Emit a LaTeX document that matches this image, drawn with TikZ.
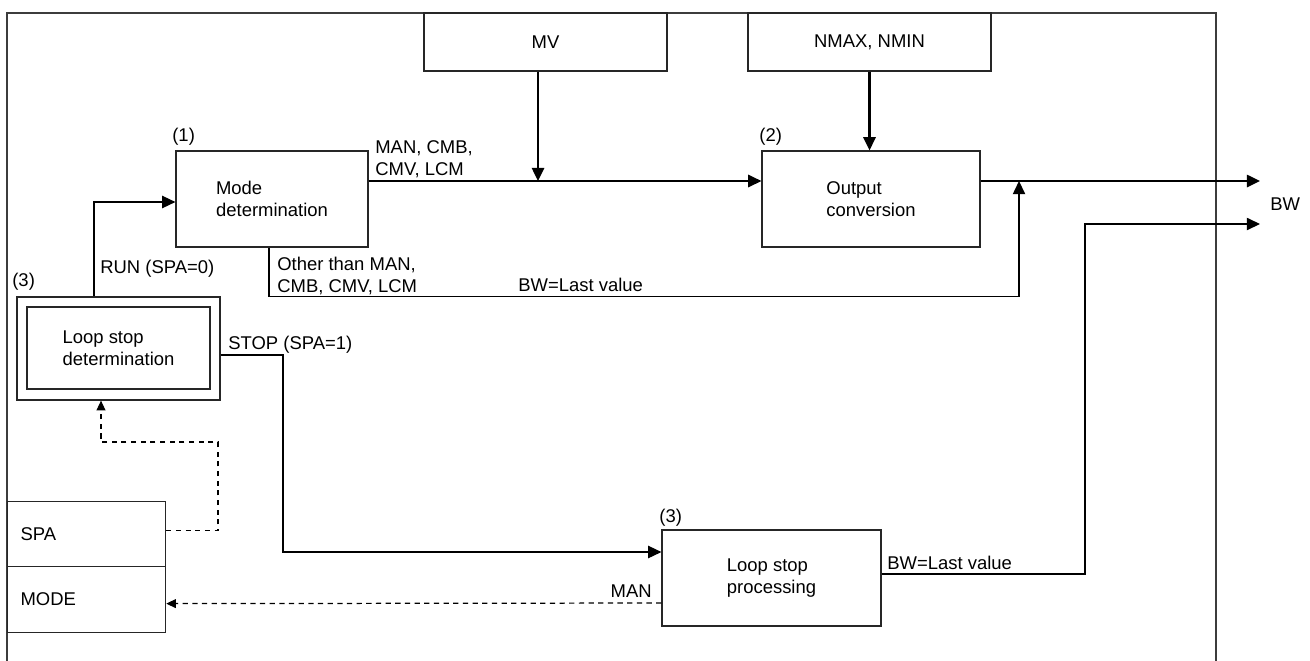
\documentclass[tikz,border=0pt]{standalone}
\usepackage{fontspec}
\setmainfont{Liberation Sans}
\usetikzlibrary{positioning,arrows.meta,calc}
\definecolor{frameGrey}{HTML}{3C3C3C}
\definecolor{boxLine}{HTML}{262626}

\begin{document}
\begin{tikzpicture}[
    x=0.02cm,y=-0.02cm,
    >={Triangle[length=7.5pt,width=7pt]},
    box/.style={rectangle,draw=boxLine,line width=0.7pt,fill=white,inner sep=0pt,
        align=left,font=\fontsize{10.5}{12.5}\selectfont},
    flow/.style={->,line width=0.7pt,black},
    flow_thick/.style={->,line width=1.2pt,black},
    flow_dash/.style={-{Triangle[length=5.5pt,width=5pt]},line width=0.7pt,black,dash pattern=on 3pt off 2.5pt},
    lbl/.style={inner sep=0pt,align=left,font=\fontsize{10.5}{12.5}\selectfont},
]
\useasboundingbox (0,0) rectangle (1310,660);

% === FRAME ===
\draw[frameGrey,line width=0.8pt] (7,670) -- (7,13) -- (1216,13) -- (1216,670);

% === INPUT BOXES ===
\node[box,align=center,minimum width=4.86cm,minimum height=1.16cm] (mv) at (545.5,42) {MV};
\node[box,align=center,minimum width=4.86cm,minimum height=1.16cm] (nmax) at (869.5,42) {NMAX, NMIN};

% === PROCESSING ===
\node[box,minimum width=3.84cm,minimum height=1.92cm] (mode) at (272,199) {Mode\\determination};
\node[box,minimum width=4.36cm,minimum height=1.92cm] (outconv) at (871,199) {Output\\conversion};
\node[box,minimum width=4.06cm,minimum height=2.06cm] (lsdOuter) at (118.5,348.5) {};
\node[box,minimum width=3.66cm,minimum height=1.64cm] (lsd) at (118.5,348) {Loop stop\\determination};
\node[box,minimum width=4.38cm,minimum height=1.92cm] (lsp) at (771.5,578) {Loop stop\\processing};

% === SPA / MODE ===
\node[box,anchor=north west,minimum width=3.16cm,minimum height=1.3cm,text width=2.64cm] (spa) at (7,501) {SPA};
\node[box,anchor=north west,minimum width=3.16cm,minimum height=1.32cm,text width=2.64cm] (modebox) at (7,566) {MODE};

% Numbers
\node[lbl,anchor=base west] (n1) at (172,141) {(1)};
\node[lbl,anchor=base west] (n2) at (759,141) {(2)};
\node[lbl,anchor=base west] (n3a) at (12,286) {(3)};
\node[lbl,anchor=base west] (n3b) at (659,522) {(3)};

% === CONNECTORS ===
\coordinate (jMV) at (538,181);
\coordinate (jOut) at (1019,181);
\coordinate (bwA) at (1260,181);
\coordinate (bwB) at (1260,224);

\draw[flow_thick] (mode.east |- jMV) -- (outconv.west |- jMV);
\draw[flow_thick] (mv.south -| jMV) -- (jMV);
\draw[flow_thick] (nmax.south) -- (nmax.south |- outconv.north);
\draw[flow_thick] (outconv.east |- bwA) -- (bwA);
\draw[flow] ($(mode.south)+(-3,0)$) |- (jOut |- lsdOuter.north) -- (jOut);

\draw[flow] ($(lsdOuter.north)+(-24.5,0)$) |- ($(mode.west)+(0,3)$);
\draw[flow] ($(lsdOuter.east)+(0,6.5)$) -| (283,552) -- ($(lsp.west)+(0,-26)$);
\draw[flow] ($(lsp.east)+(0,-4)$) -| (1085,224) -- (bwB);

\draw[flow_dash] ($(spa.east)+(0,-3.5)$) -| (218,442) -| ($(lsdOuter.south)+(-17.5,0)$);
\draw[flow_dash] ($(lsp.west)+(0,25)$) -- ($(modebox.east)+(0,4)$);

% === LABELS ===
\node[lbl,anchor=base west] (lMan) at (375,175) {MAN, CMB,\\CMV, LCM};
\node[lbl,anchor=base west] (lOther) at (277,292) {Other than MAN,\\CMB, CMV, LCM};
\node[lbl,anchor=base west] (lLast1) at (518,291) {BW=Last value};
\node[lbl,anchor=base west] (lRun) at (100,273) {RUN (SPA=0)};
\node[lbl,anchor=base west] (lStop) at (228,349) {STOP (SPA=1)};
\node[lbl,anchor=base east] (lMan2) at (652,597) {MAN};
\node[lbl,anchor=base west] (lLast2) at (887,569) {BW=Last value};
\node[lbl,anchor=base west] (lBw) at (1270,210) {BW};

\end{tikzpicture}
\end{document}
